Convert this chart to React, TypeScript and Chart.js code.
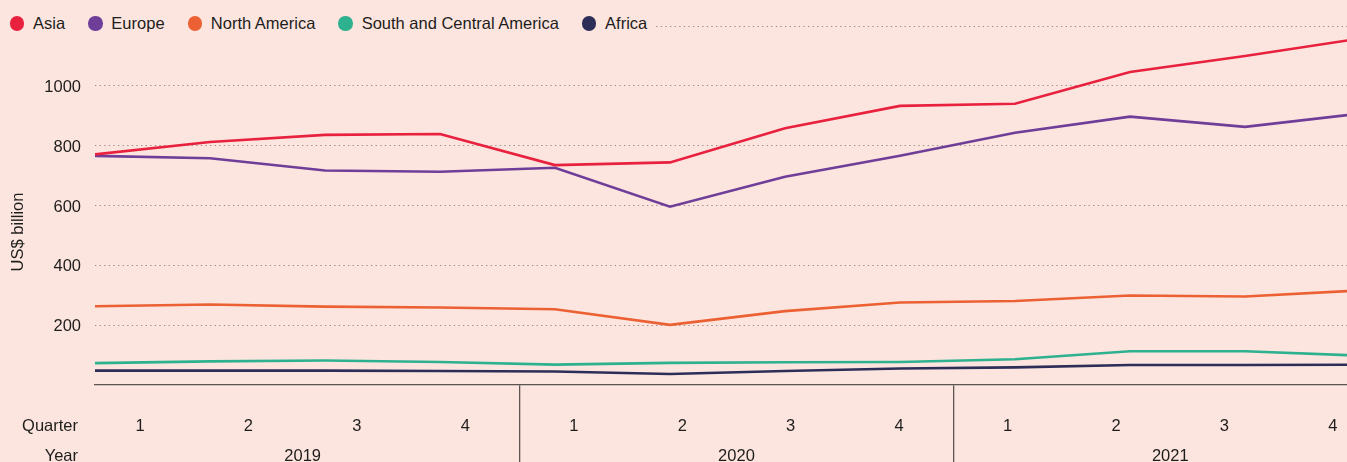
import React, { useEffect, useRef } from 'react';
import { Chart, registerables } from 'chart.js';

Chart.register(...registerables);

// ---------- data ----------
const quarterLabels = ['1', '2', '3', '4', '1', '2', '3', '4', '1', '2', '3', '4'];
const yearLabels = ['2019', '2020', '2021'];
const yTickValues = [200, 400, 600, 800, 1000];
const seriesNames = ['Asia', 'Europe', 'North America', 'South and Central America', 'Africa'];
const seriesColors = ['#e8213f', '#6e3e99', '#ec6133', '#2eb18e', '#2c2e58'];

const asia = [771, 812, 836, 839, 735, 744, 858, 933, 940, 1046, 1100, 1158];
const europe = [766, 758, 717, 713, 726, 596, 696, 766, 843, 897, 863, 907];
const northAmerica = [263, 269, 262, 259, 253, 201, 247, 276, 281, 299, 296, 316];
const southCentralAmerica = [73, 79, 82, 77, 68, 74, 76, 77, 86, 113, 113, 98];
const africa = [48, 48, 48, 47, 45, 37, 47, 55, 59, 67, 67, 68];
const seriesValues = [asia, europe, northAmerica, southCentralAmerica, africa];

// ---------- style ----------
const BG = '#fde5df';
const TEXT = '#1d1d1b';
const FONT = '"Liberation Sans", Arial, Helvetica, sans-serif';
const FONT_SIZE = 16.5;
const AXIS_COLOR = '#5b5552';
const GRID_COLOR = 'rgba(95,85,85,0.65)';
const GRID_DASH = [1.3, 3.3];

// label-axis range (quarter ticks at integer positions)
const LABEL_MIN = -0.415;
const LABEL_MAX = 11.13;
// data-axis range (last point runs off the right edge)
const DATA_MAX = 10.887;

const rowTitles = {
  id: 'rowTitles',
  afterDraw(chart: any) {
    const { ctx, chartArea } = chart;
    ctx.save();
    ctx.fillStyle = TEXT;
    ctx.font = `${FONT_SIZE}px ${FONT}`;
    ctx.textAlign = 'right';
    ctx.textBaseline = 'middle';
    ctx.fillText('Quarter', chartArea.left - 17, chartArea.bottom + 41.5);
    ctx.fillText('Year', chartArea.left - 17, chartArea.bottom + 71.5);
    ctx.translate(18.5, chartArea.top + 206);
    ctx.rotate(-Math.PI / 2);
    ctx.textAlign = 'center';
    ctx.fillText('US$ billion', 0, 0);
    ctx.restore();
  },
};

export default function App() {
  const canvasRef = useRef<HTMLCanvasElement | null>(null);

  useEffect(() => {
    document.body.style.margin = '0';
    document.body.style.background = BG;
    const canvas = canvasRef.current;
    if (!canvas) return;

    const datasets = seriesNames.map((name, s) => ({
      label: name,
      data: seriesValues[s].map((v, i) => ({ x: i, y: v })),
      borderColor: seriesColors[s],
      backgroundColor: seriesColors[s],
      borderWidth: 2.6,
      pointRadius: 0,
      tension: 0,
      fill: false,
      xAxisID: 'x',
      yAxisID: 'y',
    }));

    const quarterTickValues = quarterLabels.map((_, i) => i);
    const yearTickValues = yearLabels.map((_, i) => i * 4 + 1.5);
    const separatorValues = yearLabels.slice(1).map((_, i) => (i + 1) * 4 - 0.5);

    const chart = new Chart(canvas, {
      type: 'line',
      data: { datasets },
      plugins: [rowTitles],
      options: {
        animation: false,
        responsive: true,
        maintainAspectRatio: false,
        layout: { padding: { top: 26, left: 0, right: 0, bottom: 0 } },
        plugins: {
          legend: { display: false },
          tooltip: { enabled: false },
        },
        scales: {
          x: {
            type: 'linear',
            display: false,
            min: 0,
            max: DATA_MAX,
          },
          xs: {
            type: 'linear',
            position: 'bottom',
            weight: 0,
            min: LABEL_MIN,
            max: LABEL_MAX,
            afterBuildTicks(scale: any) {
              scale.ticks = separatorValues.map((v) => ({ value: v }));
            },
            afterFit(scale: any) {
              scale.height = 0;
              scale.paddingLeft = 0;
              scale.paddingRight = 0;
            },
            ticks: { display: false },
            grid: {
              display: true,
              drawOnChartArea: false,
              drawTicks: true,
              tickLength: 78,
              color: AXIS_COLOR,
              lineWidth: 1.3,
            },
            border: { display: true, color: AXIS_COLOR, width: 1.3 },
          },
          xq: {
            type: 'linear',
            position: 'bottom',
            weight: 1,
            min: LABEL_MIN,
            max: LABEL_MAX,
            afterBuildTicks(scale: any) {
              scale.ticks = quarterTickValues.map((v) => ({ value: v }));
            },
            afterFit(scale: any) {
              scale.height = 55;
              scale.paddingLeft = 0;
              scale.paddingRight = 0;
            },
            ticks: {
              autoSkip: false,
              maxRotation: 0,
              padding: 31.5,
              color: TEXT,
              font: { family: FONT, size: FONT_SIZE },
              callback: (v: any) => quarterLabels[Math.round(Number(v))] ?? '',
            },
            grid: { display: false, drawTicks: false },
            border: { display: false },
          },
          xy: {
            type: 'linear',
            position: 'bottom',
            weight: 2,
            min: LABEL_MIN,
            max: LABEL_MAX,
            afterBuildTicks(scale: any) {
              scale.ticks = yearTickValues.map((v) => ({ value: v }));
            },
            afterFit(scale: any) {
              scale.height = 22;
              scale.paddingLeft = 0;
              scale.paddingRight = 0;
            },
            ticks: {
              autoSkip: false,
              maxRotation: 0,
              padding: 6.5,
              color: TEXT,
              font: { family: FONT, size: FONT_SIZE },
              callback: (v: any) => yearLabels[Math.round((Number(v) - 1.5) / 4)] ?? '',
            },
            grid: { display: false, drawTicks: false },
            border: { display: false },
          },
          y: {
            type: 'linear',
            position: 'left',
            min: 0,
            max: 1200,
            afterFit(scale: any) {
              scale.width = 95;
              scale.paddingTop = 0;
              scale.paddingBottom = 0;
            },
            ticks: {
              stepSize: 200,
              padding: 14,
              labelOffset: 1.5,
              color: TEXT,
              font: { family: FONT, size: FONT_SIZE },
              callback: (v: any) => (yTickValues.includes(Number(v)) ? String(v) : ''),
            },
            grid: {
              drawTicks: false,
              color: (ctx: any) => (ctx.tick && ctx.tick.value === 0 ? 'rgba(0,0,0,0)' : GRID_COLOR),
              lineWidth: 1,
              borderDash: GRID_DASH,
            },
            border: { display: false, dash: GRID_DASH },
          },
        },
      },
    } as any);

    return () => chart.destroy();
  }, []);

  return (
    <div style={{ position: 'relative', width: 1347, height: 462, background: BG, fontFamily: FONT }}>
      <canvas ref={canvasRef} />
      <div
        style={{
          position: 'absolute',
          top: 12,
          left: 0,
          height: 23,
          display: 'flex',
          alignItems: 'center',
          background: BG,
          paddingLeft: 9.75,
          paddingRight: 6,
          fontSize: FONT_SIZE,
          lineHeight: '23px',
          color: TEXT,
          whiteSpace: 'nowrap',
        }}
      >
        {seriesNames.map((name, i) => (
          <div
            key={name}
            style={{ display: 'flex', alignItems: 'center', marginRight: i < seriesNames.length - 1 ? 23 : 0 }}
          >
            <span
              style={{
                display: 'inline-block',
                width: 14.5,
                height: 14.5,
                borderRadius: '50%',
                background: seriesColors[i],
                marginRight: 8.75,
              }}
            />
            <span>{name}</span>
          </div>
        ))}
      </div>
    </div>
  );
}
